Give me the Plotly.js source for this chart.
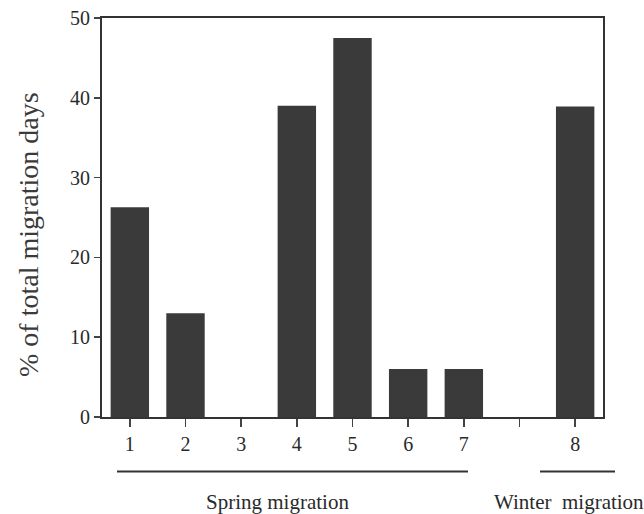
<!DOCTYPE html>
<html>
<head>
<meta charset="utf-8">
<script src="https://cdn.plot.ly/plotly-3.0.1.min.js"></script>
<style>html,body{margin:0;padding:0;background:#fff;}#chart{width:644px;height:514px;}</style>
</head>
<body>
<div id="chart"></div>
<script>
var categories = ["1", "2", "3", "4", "5", "6", "7", " ", "8"];
var values = [26.3, 13, 0, 39, 47.5, 6, 6, null, 38.9];
var yTickVals = [0, 10, 20, 30, 40, 50];
var yTitle = "% of total migration days";
var springLabel = "Spring migration";
var winterLabel = "Winter\u00a0 migration";

var W = 644, H = 514;
var m = {l: 102, r: 41, t: 18, b: 97};
var pw = W - m.l - m.r, ph = H - m.t - m.b;
function px(x) { return (x - m.l) / pw; }
function py(y) { return (H - m.b - y) / ph; }

var font = "Liberation Serif, Times New Roman, serif";
var ink = "#2a2a2a";

var trace = {
  type: "bar",
  x: categories,
  y: values,
  marker: {color: "#3a3a3a", line: {width: 0}},
  width: 0.69,
  hoverinfo: "skip"
};

var layout = {
  width: W, height: H,
  margin: m,
  paper_bgcolor: "#fff", plot_bgcolor: "#fff",
  showlegend: false,
  font: {family: font, size: 20, color: ink},
  xaxis: {
    type: "category",
    categoryorder: "array", categoryarray: categories,
    range: [-0.5, 8.5],
    showline: true, mirror: true, linecolor: "#333", linewidth: 2,
    ticks: "outside", ticklen: 8, tickwidth: 1.5, tickcolor: "#444",
    showgrid: false, zeroline: false,
    tickfont: {family: font, size: 20, color: ink}
  },
  yaxis: {
    range: [0, 50],
    tickvals: yTickVals,
    showline: true, mirror: true, linecolor: "#333", linewidth: 2,
    ticks: "outside", ticklen: 6, tickwidth: 1.5, tickcolor: "#444",
    showgrid: false, zeroline: false,
    tickfont: {family: font, size: 20, color: ink}
  },
  shapes: [
    {type: "line", xref: "paper", yref: "paper", x0: px(117), x1: px(468), y0: py(471.5), y1: py(471.5), line: {color: "#333", width: 2}},
    {type: "line", xref: "paper", yref: "paper", x0: px(540), x1: px(615), y0: py(471.5), y1: py(471.5), line: {color: "#333", width: 2}}
  ],
  annotations: [
    {text: yTitle, xref: "paper", yref: "paper", x: px(28), y: py(235), textangle: -90,
     showarrow: false, xanchor: "center", yanchor: "middle", font: {family: font, size: 28, color: "#3a3a3a"}},
    {text: springLabel, xref: "paper", yref: "paper", x: px(277.5), y: py(502),
     showarrow: false, xanchor: "center", yanchor: "middle", font: {family: font, size: 21, color: ink}},
    {text: winterLabel, xref: "paper", yref: "paper", x: px(492), y: py(502),
     showarrow: false, xanchor: "left", yanchor: "middle", font: {family: font, size: 21, color: ink}}
  ]
};

Plotly.newPlot("chart", [trace], layout, {displayModeBar: false, staticPlot: true});
</script>
</body>
</html>
